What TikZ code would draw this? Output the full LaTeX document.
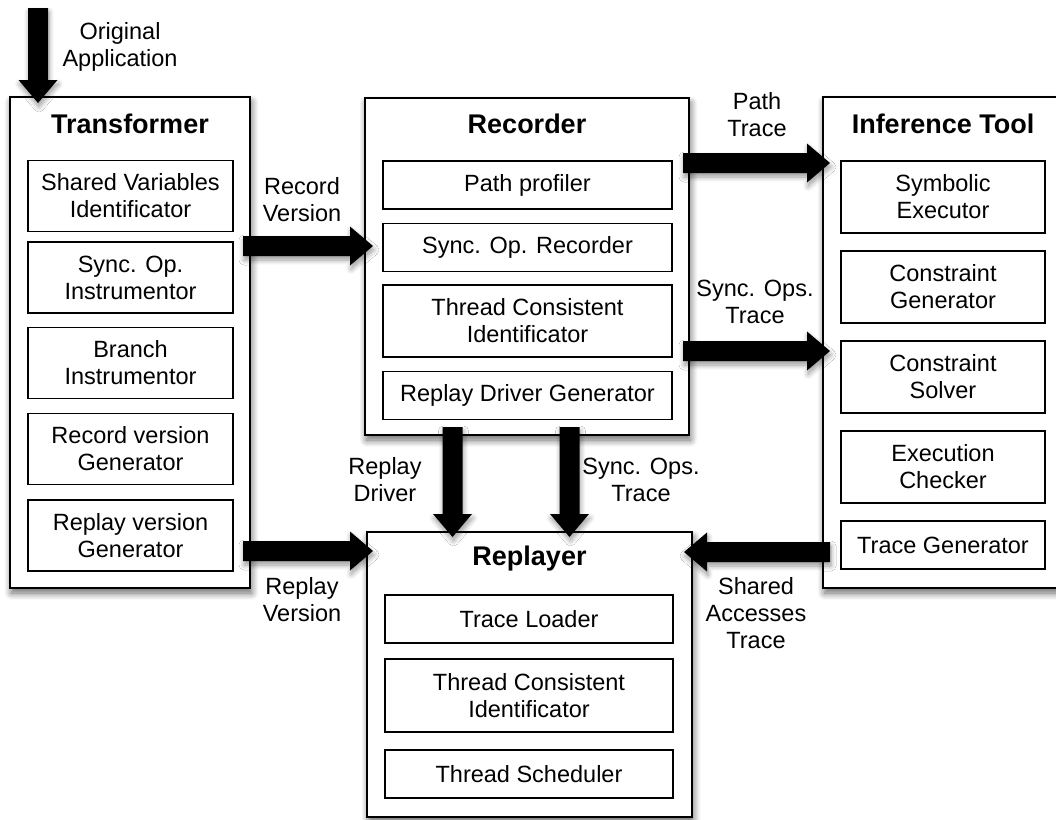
\documentclass[tikz,border=0pt]{standalone}
\usepackage{fontspec}
\setmainfont{Liberation Sans}
\usetikzlibrary{calc,shadows.blur}
\newcommand{\blockarrow}[2]{%
  \fill[blockarr] let \p1=(#1), \p2=(#2), \n1={atan2(\y2-\y1,\x2-\x1)}, \n2={veclen(\x2-\x1,\y2-\y1)} in
   [shift={(\p1)}, rotate=\n1] (0pt,-10pt) -- ({\n2*1pt-23pt},-10pt) -- ({\n2*1pt-23pt},-19.5pt) -- ({\n2*1pt},0pt) -- ({\n2*1pt-23pt},19.5pt) -- ({\n2*1pt-23pt},10pt) -- (0pt,10pt) -- cycle;}
\begin{document}
\begin{tikzpicture}[x=1pt,y=-1pt,
  softshadow/.style={blur shadow={shadow xshift=1.5pt, shadow yshift=-5pt, shadow blur radius=7pt, shadow blur steps=10, shadow opacity=60}},
  arrshadow/.style={blur shadow={shadow xshift=1pt, shadow yshift=-4pt, shadow blur radius=5pt, shadow blur steps=8, shadow opacity=40}},
  outerbox/.style={draw=black, line width=1.6pt, fill=white, softshadow, inner sep=0pt, outer sep=0pt},
  innerbox/.style={draw=black, line width=1.3pt, fill=white, align=center, font=\fontsize{23.5}{27}\selectfont, inner sep=0pt, outer sep=0pt, minimum height=71pt},
  single/.style={minimum height=48pt},
  titletext/.style={font=\fontsize{27}{32}\selectfont\bfseries, anchor=base, inner sep=0pt},
  lbl/.style={align=center, font=\fontsize{23.5}{27}\selectfont, inner sep=0pt},
  blockarr/.style={fill=black, arrshadow}
]
\useasboundingbox (0,0) rectangle (1056,819);

% Outer boxes
\node[outerbox, minimum width=240pt, minimum height=491pt] (trans) at (130,342.5) {};
\node[outerbox, minimum width=324pt, minimum height=337pt] (rec) at (527,266.5) {};
\node[outerbox, minimum width=240pt, minimum height=491pt] (inf) at (943,342.5) {};
\node[outerbox, minimum width=325pt, minimum height=285pt] (rep) at (529.5,674.5) {};

% Titles
\node[titletext] (transT) at (130,133) {Transformer};
\node[titletext] (recT) at (527,133) {Recorder};
\node[titletext] (infT) at (943,133) {Inference Tool};
\node[titletext] (repT) at (529.5,565) {Replayer};

% Transformer components
\node[innerbox, minimum width=205pt] (t1) at (130.5,196) {Shared Variables\\Identificator};
\node[innerbox, minimum width=205pt] (t2) at (130.5,277.5) {Sync. Op.\\Instrumentor};
\node[innerbox, minimum width=205pt] (t3) at (130.5,363) {Branch\\Instrumentor};
\node[innerbox, minimum width=205pt] (t4) at (130.5,449) {Record version\\Generator};
\node[innerbox, minimum width=205pt] (t5) at (130.5,535.5) {Replay version\\Generator};

% Recorder components
\node[innerbox, single, minimum width=289pt] (r1) at (527.5,185) {Path profiler};
\node[innerbox, single, minimum width=289pt] (r2) at (527.5,247.5) {Sync. Op. Recorder};
\node[innerbox, minimum width=289pt, minimum height=72pt] (r3) at (527.5,321) {Thread Consistent\\Identificator};
\node[innerbox, single, minimum width=289pt] (r4) at (527.5,395.5) {Replay Driver Generator};

% Inference Tool components
\node[innerbox, minimum width=204pt, minimum height=72pt] (i1) at (943,197) {Symbolic\\Executor};
\node[innerbox, minimum width=204pt, minimum height=72pt] (i2) at (943,287) {Constraint\\Generator};
\node[innerbox, minimum width=204pt, minimum height=72pt] (i3) at (943,377) {Constraint\\Solver};
\node[innerbox, minimum width=204pt, minimum height=72pt] (i4) at (943,467) {Execution\\Checker};
\node[innerbox, single, minimum width=204pt] (i5) at (943,545) {Trace Generator};

% Replayer components
\node[innerbox, single, minimum width=288pt] (p1) at (529,619) {Trace Loader};
\node[innerbox, minimum width=288pt, minimum height=73pt] (p2) at (529,695.5) {Thread Consistent\\Identificator};
\node[innerbox, single, minimum width=288pt] (p3) at (529,774) {Thread Scheduler};

% Arrow end points
\coordinate (a0s) at (38,8);
\coordinate (a0e) at ($(trans.north west)+(28,6)$);
\coordinate (a1s) at ($(trans.east |- 0,246)+(-7,0)$);
\coordinate (a1e) at ($(rec.west |- 0,246)+(8,0)$);
\coordinate (a2s) at ($(trans.east |- 0,551)+(-7,0)$);
\coordinate (a2e) at ($(rep.west |- 0,551)+(6,0)$);
\coordinate (a3s) at ($(rec.east |- 0,163)+(-6,0)$);
\coordinate (a3e) at ($(inf.west |- 0,163)+(7,0)$);
\coordinate (a4s) at ($(rec.east |- 0,351)+(-6,0)$);
\coordinate (a4e) at ($(inf.west |- 0,351)+(7,0)$);
\coordinate (a5s) at (452.5,427);
\coordinate (a5e) at ($(rep.north -| a5s)+(0,5)$);
\coordinate (a6s) at (569.5,427);
\coordinate (a6e) at ($(rep.north -| a6s)+(0,5)$);
\coordinate (a7s) at ($(inf.west |- 0,552)+(7,0)$);
\coordinate (a7e) at ($(rep.east |- 0,552)+(-8,0)$);

% Block arrows
\blockarrow{a0s}{a0e}
\blockarrow{a1s}{a1e}
\blockarrow{a2s}{a2e}
\blockarrow{a3s}{a3e}
\blockarrow{a4s}{a4e}
\blockarrow{a5s}{a5e}
\blockarrow{a6s}{a6e}
\blockarrow{a7s}{a7e}

% Labels
\node[lbl] (l0) at (120,46.5) {Original\\Application};
\node[lbl] (l1) at (302,200) {Record\\Version};
\node[lbl] (l2) at (302,600) {Replay\\Version};
\node[lbl] (l3) at (757,115) {Path\\Trace};
\node[lbl] (l4) at (755,302) {Sync. Ops.\\Trace};
\node[lbl] (l5) at (385,480) {Replay\\Driver};
\node[lbl] (l6) at (641,480) {Sync. Ops.\\Trace};
\node[lbl] (l7) at (756,613) {Shared\\Accesses\\Trace};
\end{tikzpicture}
\end{document}
